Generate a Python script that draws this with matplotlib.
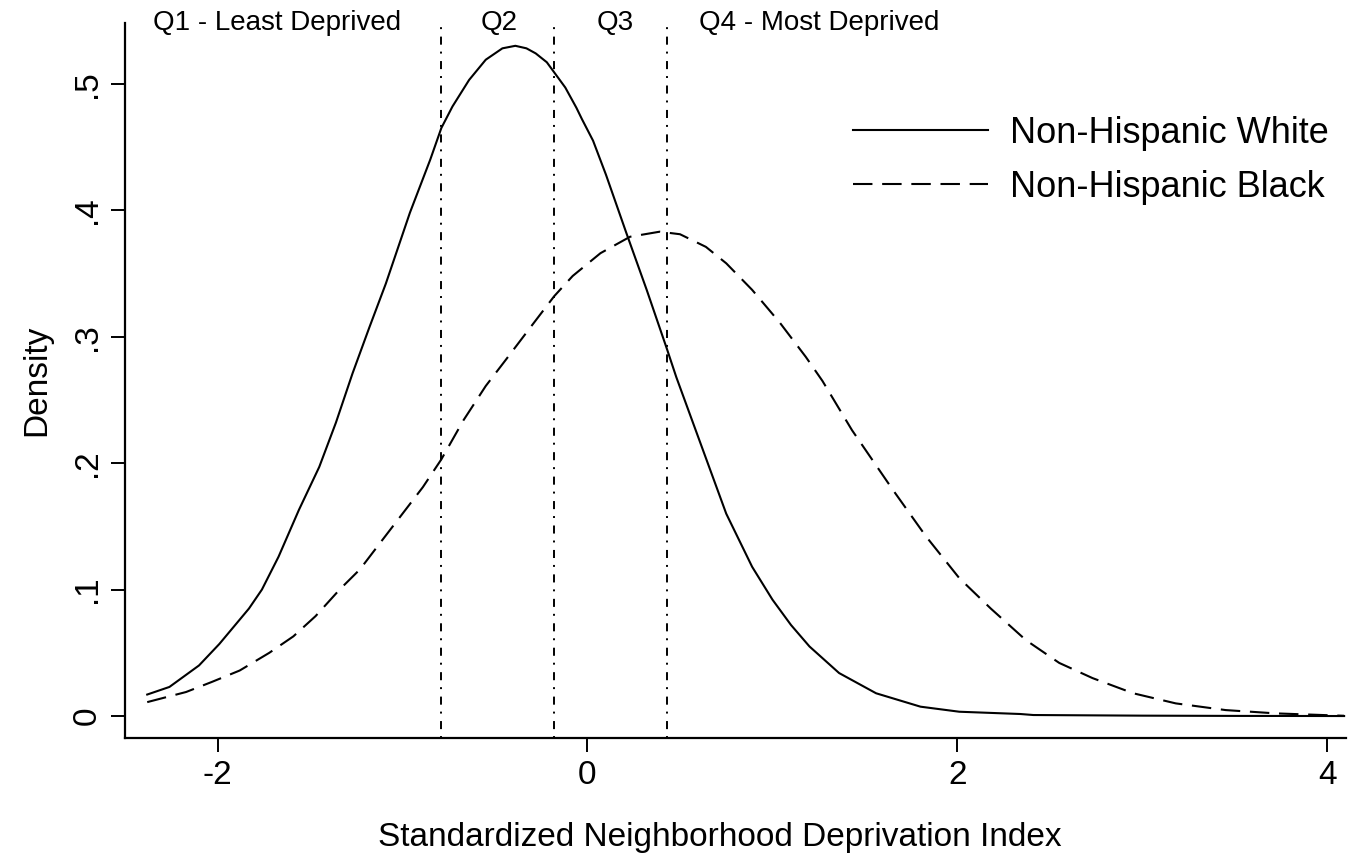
import matplotlib
matplotlib.use("Agg")
import matplotlib.pyplot as plt
import matplotlib.transforms as mtransforms

plt.rcParams['font.family'] = ['Liberation Sans', 'DejaVu Sans']
plt.rcParams['lines.scale_dashes'] = False

# Non-Hispanic White density curve
white_x = [-2.38, -2.26, -2.10, -1.99, -1.83, -1.76, -1.67, -1.56, -1.45, -1.36,
           -1.27, -1.18, -1.09, -0.96, -0.85, -0.79, -0.73, -0.64, -0.55, -0.46,
           -0.39, -0.33, -0.28, -0.22, -0.18, -0.12, -0.06, -0.03, 0.03, 0.10,
           0.21, 0.32, 0.43, 0.48, 0.61, 0.75, 0.89, 1.00, 1.10, 1.20, 1.36,
           1.56, 1.80, 2.01, 2.34, 2.41, 3.00, 3.50, 4.09]
white_y = [0.017, 0.023, 0.040, 0.057, 0.085, 0.100, 0.126, 0.163, 0.197, 0.232,
           0.271, 0.307, 0.342, 0.398, 0.440, 0.465, 0.482, 0.503, 0.519, 0.528,
           0.530, 0.528, 0.524, 0.517, 0.509, 0.497, 0.481, 0.472, 0.455, 0.428,
           0.382, 0.337, 0.290, 0.268, 0.216, 0.160, 0.118, 0.092, 0.072, 0.055, 0.034,
           0.018, 0.0074, 0.0034, 0.0016, 0.0008, 0.0003, 0.0001, 0.0]

# Non-Hispanic Black density curve
black_x = [-2.38, -2.17, -2.03, -1.88, -1.72, -1.59, -1.47, -1.34, -1.23, -1.11,
           -1.00, -0.89, -0.79, -0.67, -0.55, -0.44, -0.30, -0.18, -0.08, 0.07,
           0.23, 0.39, 0.50, 0.64, 0.75, 0.89, 1.04, 1.18, 1.27, 1.43, 1.65,
           1.83, 2.01, 2.18, 2.37, 2.55, 2.73, 2.95, 3.18, 3.45, 3.72, 4.09]
black_y = [0.011, 0.019, 0.027, 0.036, 0.050, 0.063, 0.079, 0.100, 0.116, 0.139,
           0.160, 0.181, 0.203, 0.234, 0.261, 0.282, 0.309, 0.332, 0.348, 0.366,
           0.379, 0.383, 0.381, 0.371, 0.358, 0.337, 0.311, 0.284, 0.265, 0.226, 0.179,
           0.142, 0.109, 0.085, 0.060, 0.042, 0.030, 0.018, 0.010, 0.0047, 0.0021, 0.0002]

quartile_cuts = [-0.79, -0.18, 0.43]
quartile_labels = ['Q1 - Least Deprived', 'Q2', 'Q3', 'Q4 - Most Deprived']
quartile_label_x = [-1.68, -0.48, 0.15, 1.25]

fig = plt.figure(figsize=(13.53, 8.63), dpi=100)
ax = fig.add_axes([0.0924, 0.1448, 0.9024, 0.8285])

ax.plot(white_x, white_y, color='black', lw=1.5, ls='-', label='Non-Hispanic White',
        solid_joinstyle='round')
ax.plot(black_x, black_y, color='black', lw=1.5, ls=(0, (14, 7)), label='Non-Hispanic Black',
        dash_joinstyle='round')

for c in quartile_cuts:
    ax.axvline(c, color='black', lw=1.4, ls=(0, (1.4, 5.0, 5.8, 5.4)))

trans = mtransforms.blended_transform_factory(ax.transData, ax.transAxes)
for lx, lab in zip(quartile_label_x, quartile_labels):
    ax.text(lx, 1.0, lab, transform=trans, ha='center', va='center', fontsize=20)

ax.set_xlim(-2.5, 4.1)
ax.set_ylim(-0.0174, 0.548)
ax.set_xticks([-2, 0, 2, 4])
ax.set_xticklabels(['-2', '0', '2', '4'])
ax.set_yticks([0, 0.1, 0.2, 0.3, 0.4, 0.5])
ax.set_yticklabels(['0', '.1', '.2', '.3', '.4', '.5'], rotation=90, va='center')
ax.tick_params(axis='both', labelsize=24, length=10, width=1.4, pad=6)

ax.spines['top'].set_visible(False)
ax.spines['right'].set_visible(False)
ax.spines['left'].set_linewidth(1.6)
ax.spines['bottom'].set_linewidth(1.6)

ax.set_xlabel('Standardized Neighborhood Deprivation Index', fontsize=24)
ax.set_ylabel('Density', fontsize=24, labelpad=14)
ax.xaxis.set_label_coords(0.487, -0.117)

ax.legend(loc='upper left', bbox_to_anchor=(0.596, 0.87), frameon=False, fontsize=26,
          handlelength=3.75, handletextpad=0.6, borderpad=0, borderaxespad=0,
          labelspacing=0.52)

fig.savefig('out.png', dpi=100)
